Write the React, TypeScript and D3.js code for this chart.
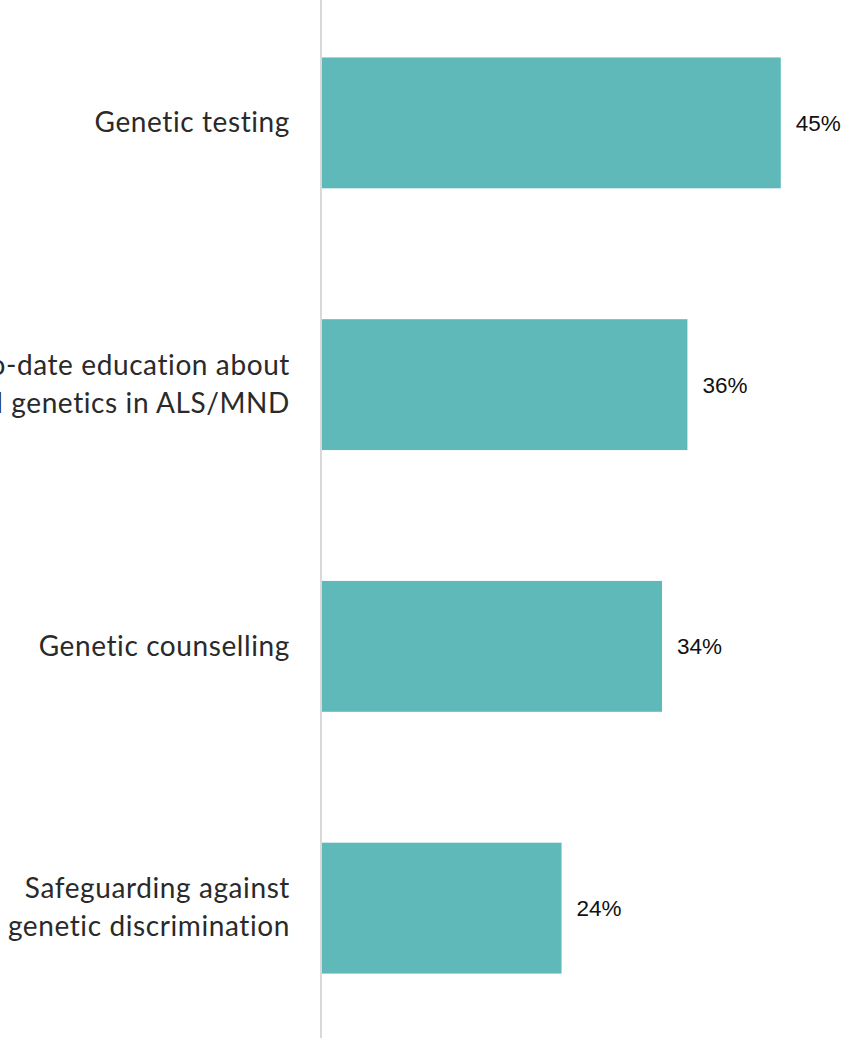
import React from "react";
import * as d3 from "d3";

const categories: string[][] = [
  ["Genetic testing"],
  ["Up-to-date education about", "clinical genetics in ALS/MND"],
  ["Genetic counselling"],
  ["Safeguarding against", "genetic discrimination"],
];
const values: number[] = [45.2, 36.0, 33.5, 23.6];
const valueLabels: string[] = ["45%", "36%", "34%", "24%"];

const W = 849;
const H = 1039;

export default function App() {
  const keys = categories.map((c) => c.join(" "));
  const y = d3.scaleBand<string>().domain(keys).range([-8, 1039]).paddingInner(0.5).paddingOuter(0.25);
  const x = d3.scaleLinear().domain([0, 50]).range([322, 829.5]);
  const bw = y.bandwidth();
  return (
    <svg width={W} height={H} style={{ position: "absolute", left: 0, top: 0, background: "#fff" }}>
      {keys.map((k, i) => {
        const y0 = y(k)!;
        const cy = y0 + bw / 2;
        const lines = categories[i];
        const lh = 38;
        return (
          <g key={k}>
            <rect x={x(0)} y={y0} width={x(values[i]) - x(0)} height={bw} fill="#5fb9b9" />
            <text
              x={x(values[i]) + 15}
              y={cy}
              dy="0.36em"
              fontFamily="'Liberation Sans', Arial, sans-serif"
              fontSize={22.5}
              fill="#111"
            >
              {valueLabels[i]}
            </text>
            <text
              textAnchor="end"
              fontFamily="Lato, sans-serif"
              fontWeight={400}
              fontSize={28}
              fill="#2a2a2a"
              letterSpacing={0.6}
            >
              {lines.map((l, j) => (
                <tspan key={j} x={290} y={cy + (j - (lines.length - 1) / 2) * lh} dy="0.33em">
                  {l}
                </tspan>
              ))}
            </text>
          </g>
        );
      })}
      <line x1={321} x2={321} y1={0} y2={1038} stroke="#d9d9d9" strokeWidth={2} />
    </svg>
  );
}
